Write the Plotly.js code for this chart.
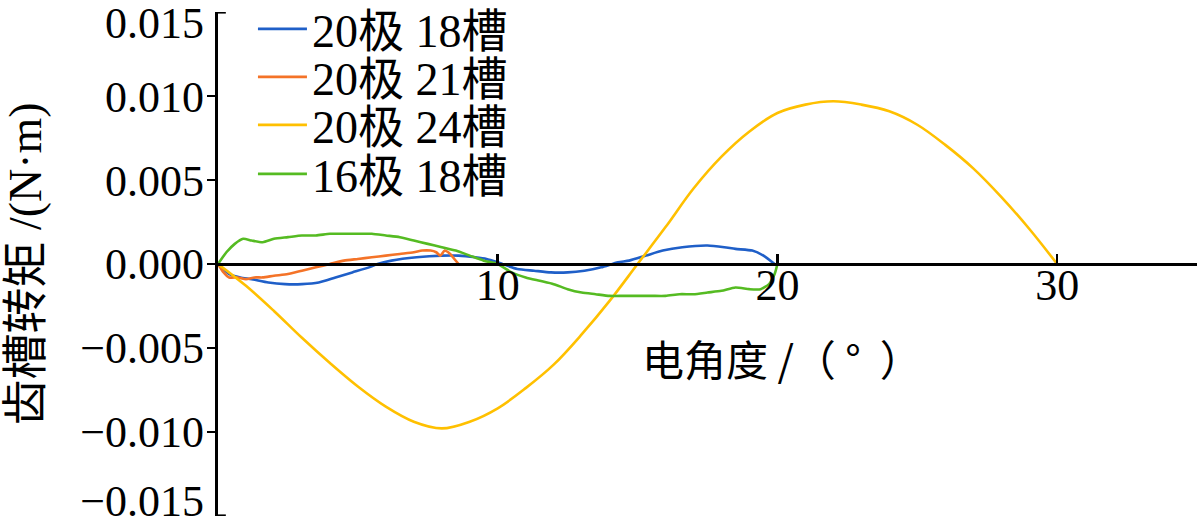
<!DOCTYPE html>
<html>
<head>
<meta charset="utf-8">
<script src="https://cdn.plot.ly/plotly-3.0.1.min.js"></script>
<style>
html,body{margin:0;padding:0;background:#fff;}
#chart{width:1200px;height:524px;}
</style>
</head>
<body>
<div id="chart"></div>
<script>
// ---- data ----
const seriesNames = ["20极 18槽", "20极 21槽", "20极 24槽", "16极 18槽"];
const seriesColors = ["#1f5fc8", "#f47328", "#ffc000", "#55bb22"];

const blueX = [0,0.4,0.8,1.2,1.8,2.4,3.0,3.6,4.2,4.8,5.4,5.7,6.2,7.1,8.0,8.6,9.2,9.6,10.0,10.7,11.3,11.9,12.5,13.1,13.7,14.3,14.7,15.3,15.9,16.6,17.5,18.1,18.5,19.1,19.5,19.9];
const blueY = [0,-0.0006,-0.0008,-0.0009,-0.0011,-0.0012,-0.0012,-0.0011,-0.0008,-0.0005,-0.0002,0.0000,0.0002,0.0004,0.0005,0.0005,0.0004,0.0003,0.0001,-0.0003,-0.0004,-0.0005,-0.0005,-0.0004,-0.0002,0.0001,0.0002,0.0005,0.0008,0.0010,0.0011,0.0010,0.0009,0.0008,0.0005,0.0000];

const orangeX = [0,0.2,0.4,0.7,1.0,1.3,1.6,2.0,2.5,3.0,3.5,4.0,4.5,5.0,5.5,6.0,6.5,7.0,7.3,7.6,7.8,7.95,8.1,8.3,8.45,8.6];
const orangeY = [0,-0.0005,-0.0008,-0.0008,-0.0009,-0.0008,-0.0008,-0.0007,-0.0006,-0.0004,-0.0002,0.0000,0.0002,0.0003,0.0004,0.0005,0.0006,0.0007,0.0008,0.0008,0.0007,0.0005,0.0008,0.0006,0.0003,0.0000];

const yellowX = [0,1,2,3,4,5,6,7,8,9,10,11,12,13,14,15,16,17,18,19,20,21,22,23,24,25,26,27,28,29,30];
const yellowY = [0,-0.0013,-0.0028,-0.0044,-0.0059,-0.0073,-0.0085,-0.0094,-0.0098,-0.0094,-0.0086,-0.0074,-0.0060,-0.0042,-0.0022,0.0000,0.0022,0.0045,0.0064,0.0079,0.0090,0.0095,0.0097,0.0095,0.0091,0.0083,0.0071,0.0057,0.0040,0.0021,0.0000];

const greenX = [0,0.3,0.6,0.9,1.2,1.6,2.0,2.5,3.0,3.5,4.0,4.5,5.0,5.5,6.0,6.5,7.0,7.5,8.0,8.5,9.0,9.5,10.0,10.5,11.0,11.5,12.0,12.5,13.0,13.5,14.0,14.5,15.0,15.5,16.0,16.5,17.0,17.5,18.0,18.5,19.0,19.4,19.7,19.9,20.0];
const greenY = [0,0.0007,0.0012,0.0015,0.0014,0.0013,0.0015,0.0016,0.0017,0.0017,0.0018,0.0018,0.0018,0.0018,0.0017,0.0016,0.0014,0.0012,0.0010,0.0008,0.0005,0.0002,0.0000,-0.0005,-0.0008,-0.0010,-0.0012,-0.0015,-0.0017,-0.0018,-0.0019,-0.0019,-0.0019,-0.0019,-0.0019,-0.0018,-0.0018,-0.0017,-0.0016,-0.0014,-0.0015,-0.0015,-0.0012,-0.0006,0.0000];

const xTickVals = [10, 20, 30];
const yTickVals = [-0.010, -0.005, 0.000, 0.005, 0.010];
const yEndVals = [-0.015, 0.015];
const yLabelVals = [-0.0141, -0.010, -0.005, 0.000, 0.005, 0.010, 0.0144];
const yTickText = ["\u22120.015", "\u22120.010", "\u22120.005", "0.000", "0.005", "0.010", "0.015"];
const xTitle = "电角度\u00a0/（\u00a0°\u00a0\u00a0）";
const yTitle = "齿槽转矩 /(N·m)";

const serif = "Liberation Serif, Noto Sans CJK SC, serif";
const allX = [blueX, orangeX, yellowX, greenX];
const allY = [blueY, orangeY, yellowY, greenY];
const legendIds = ["legend", "legend2", "legend3", "legend4"];
const legendRowY = [0.9663, 0.871, 0.7758, 0.6786];
const yRange = [-0.01502, 0.01502];

const traces = seriesNames.map((n, i) => ({
  type: "scatter", mode: "lines", name: n,
  x: allX[i], y: allY[i], legend: legendIds[i],
  line: {color: seriesColors[i], width: 2.6, shape: "spline", smoothing: i === 2 ? 1 : 0.6}
}));

const layout = {
  width: 1200, height: 524,
  margin: {l: 218, r: 3, t: 12, b: 8, autoexpand: false},
  paper_bgcolor: "#fff", plot_bgcolor: "#fff",
  font: {family: serif, color: "#000", size: 42},
  showlegend: true,
  xaxis: {
    range: [0, 35], anchor: "free", position: 0.5,
    showline: true, linecolor: "#000", linewidth: 2.5,
    showgrid: false, zeroline: false,
    ticks: "inside", ticklen: 9, tickwidth: 2.5, tickcolor: "#000",
    tickvals: xTickVals, ticktext: xTickVals.map(String),
    ticklabelstandoff: -18, ticklabeloverflow: "allow",
    tickfont: {family: serif, size: 44, color: "#000"}
  },
  yaxis: {
    range: yRange,
    showline: true, linecolor: "#000", linewidth: 3,
    showgrid: false, zeroline: false,
    ticks: "outside", ticklen: 8, tickwidth: 2.5, tickcolor: "#000",
    tickvals: yTickVals, showticklabels: false
  },
  yaxis2: {
    range: yRange, overlaying: "y", side: "left",
    showline: false, showgrid: false, zeroline: false, ticks: "",
    tickvals: yLabelVals, ticktext: yTickText,
    ticklabelstandoff: 13, ticklabeloverflow: "allow",
    tickfont: {family: serif, size: 44, color: "#000"},
    title: {text: yTitle, font: {family: serif, size: 46, color: "#000"}, standoff: 24}
  },
  shapes: yEndVals.map(v => ({
    type: "line", xref: "paper", yref: "y", x0: 0, x1: 0.008, y0: v, y1: v,
    line: {color: "#000", width: 2.5}
  })),
  annotations: [
    {text: xTitle, xref: "paper", yref: "paper", x: 0.576, y: 0.3135, xanchor: "center", yanchor: "middle",
     showarrow: false, font: {family: "Noto Sans CJK SC, Liberation Serif, sans-serif", size: 42, color: "#000"}}
  ]
};
legendIds.forEach((id, i) => {
  layout[id] = {
    x: 0.0357, y: legendRowY[i], xanchor: "left", yanchor: "middle",
    font: {family: serif, size: 46, color: "#000"},
    bgcolor: "rgba(0,0,0,0)", itemwidth: 49
  };
});

// a hidden helper trace puts yaxis2 into use (its labels only)
traces.push({type: "scatter", mode: "lines", x: [0], y: [0], yaxis: "y2", showlegend: false,
  hoverinfo: "skip", line: {width: 0}});

Plotly.newPlot("chart", traces, layout, {displayModeBar: false, staticPlot: true});
</script>
</body>
</html>
